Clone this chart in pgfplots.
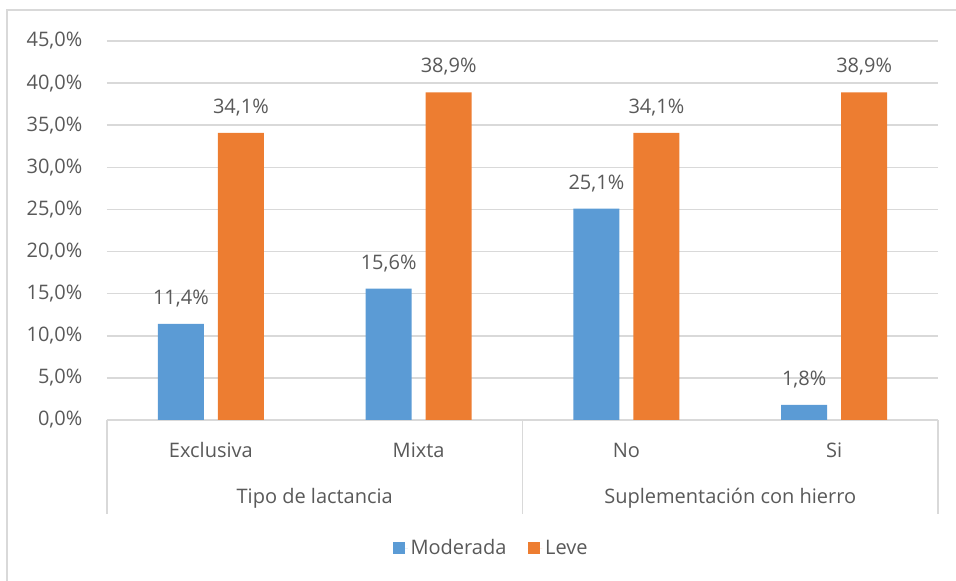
\documentclass[border=0pt]{standalone}
\usepackage{pgfplots}
\pgfplotsset{compat=1.18}
\usepackage{fontspec}
\setmainfont{Open Sans}
\definecolor{cblue}{HTML}{5B9BD5}
\definecolor{corange}{HTML}{ED7D31}
\definecolor{cgrid}{HTML}{D9D9D9}
\definecolor{ctext}{HTML}{595959}
\newcommand{\lblfont}{\fontsize{15}{18}\selectfont}
\begin{document}
\begin{tikzpicture}
\useasboundingbox (-80.25pt,-120.75pt) rectangle (636.75pt,315pt);
\begin{axis}[
  at={(0,0)}, anchor=south west,
  scale only axis, width=623.25pt, height=284.25pt,
  xmin=0, xmax=4, ymin=0, ymax=45,
  ytick={0,5,...,45},
  ymajorgrids, grid style={cgrid, line width=1.1pt},
  axis line style={draw=none},
  major tick length=0pt,
  xtick={0.5,1.5,2.5,3.5},
  xticklabels={Exclusiva,Mixta,No,Si},
  yticklabel={\pgfmathprintnumber[fixed,fixed zerofill,precision=1,use comma]{\tick}\%},
  /pgf/number format/assume math mode=true,
  tick label style={font=\lblfont, text=ctext},
  yticklabel style={anchor=east, xshift=-15pt},
  xticklabel style={anchor=base, yshift=-28.5pt},
  ybar=10.5pt, bar width=34.5pt,
  nodes near coords={\pgfmathprintnumber[fixed,fixed zerofill,precision=1,use comma]{\pgfplotspointmeta}\%},
  nodes near coords style={font=\lblfont, text=ctext, anchor=south, inner sep=0pt, yshift=12.5pt},
  legend style={at={(0.463,-0.338)}, anchor=center, draw=none, font=\lblfont, text=ctext,
    /tikz/every even column/.append style={column sep=14pt}},
  legend columns=2,
  legend image code/.code={\fill[#1] (0pt,-4.5pt) rectangle (9pt,4.5pt); \path (0pt,0pt) -- (11pt,0pt);},
  clip=false,
]
\addplot[fill=cblue, draw=none] coordinates {(0.5,11.4) (1.5,15.6) (2.5,25.1) (3.5,1.8)};
\addplot[fill=corange, draw=none] coordinates {(0.5,34.1) (1.5,38.9) (2.5,34.1) (3.5,38.9)};
\legend{Moderada,Leve}
\draw[cgrid, line width=1.1pt] (axis cs:0,0) -- ++(0,-70.5pt);
\draw[cgrid, line width=1.1pt] (axis cs:2,0) -- ++(0,-70.5pt);
\draw[cgrid, line width=1.1pt] (axis cs:4,0) -- ++(0,-70.5pt);
\node[anchor=base, font=\lblfont, text=ctext] at ([yshift=-63pt]axis cs:1,0) {Tipo de lactancia};
\node[anchor=base, font=\lblfont, text=ctext] at ([yshift=-63pt]axis cs:3,0) {Suplementación con hierro};
\end{axis}
\draw[cgrid, line width=1.1pt] (-75pt,-121pt) -- (-75pt,307.5pt) -- (637pt,307.5pt);
\end{tikzpicture}
\end{document}
